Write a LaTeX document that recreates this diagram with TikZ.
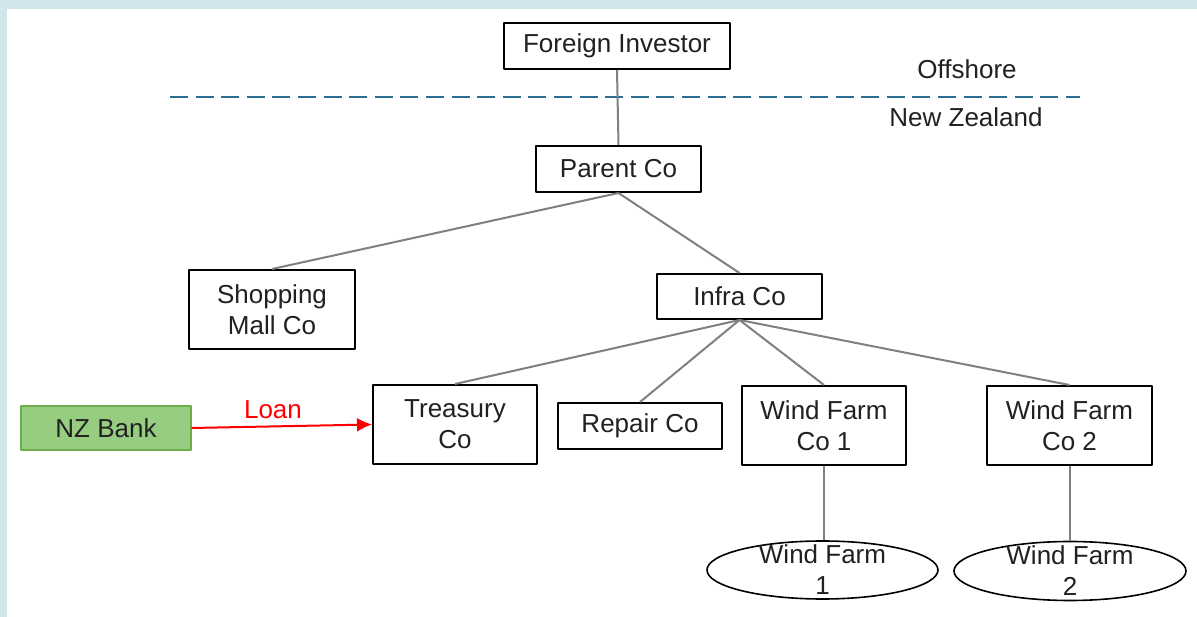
\documentclass[tikz,border=0pt]{standalone}
\usepackage{fontspec}
\setmainfont{Liberation Sans}
\usetikzlibrary{arrows.meta,shapes.geometric}
\definecolor{framecol}{RGB}{208,230,234}
\definecolor{linkcol}{RGB}{128,128,128}
\definecolor{bordercol}{RGB}{44,110,145}
\definecolor{bankfill}{RGB}{150,205,128}
\definecolor{bankdraw}{RGB}{106,174,74}
\begin{document}
\begin{tikzpicture}[>={Latex[length=15bp,width=14bp]},line join=bevel,
  every node/.style={font=\fontsize{26bp}{31bp}\selectfont,text=black!87},
  entity/.style={draw=black,line width=2bp,rectangle,inner sep=0pt,align=center,minimum width=165bp},
  farm/.style={draw=black,line width=1.6bp,ellipse,inner sep=0pt},
  link/.style={draw=linkcol,line width=2bp},
  loan/.style={draw=red,line width=2bp,->},
  divide/.style={draw=bordercol,line width=2.5bp,dash pattern=on 18bp off 7.6bp},
]
%%
\useasboundingbox (0bp,0bp) rectangle (1197bp,617bp);
\fill [framecol] (0bp,0bp) rectangle (1197bp,617bp);
\fill [white] (7bp,0bp) rectangle (1197bp,608bp);
%%
  \coordinate (divl) at (170bp,520bp);
  \coordinate (divr) at (1080bp,520bp);
  \draw [divide] (divl) -- (divr);
  \node (off) at (967bp,548bp) {Offshore};
  \node (nz) at (966bp,500bp) {New Zealand};
%%
  \node (FI) at (617bp,571bp) [entity,minimum width=226bp,minimum height=46bp] {Foreign Investor};
  \node (PC) at (618.5bp,448bp) [entity,minimum height=46bp] {Parent Co};
  \node (SMC) at (272bp,307.5bp) [entity,minimum width=166bp,minimum height=79bp] {Shopping\\Mall Co};
  \node (IC) at (739.5bp,320.5bp) [entity,minimum height=45bp] {Infra Co};
  \node (TC) at (455bp,192.5bp) [entity,minimum width=164bp,minimum height=79bp] {Treasury\\Co};
  \node (RC) at (640bp,191bp) [entity,minimum width=164bp,minimum height=46bp] {Repair Co};
  \node (WFC1) at (824bp,191.5bp) [entity,minimum width=164bp,minimum height=79bp] {Wind Farm\\Co 1};
  \node (WFC2) at (1069.5bp,191.5bp) [entity,minimum height=79bp] {Wind Farm\\Co 2};
  \node (NZB) at (106bp,189bp) [draw=bankdraw,fill=bankfill,line width=1.2bp,rectangle,minimum width=170bp,minimum height=44bp] {NZ Bank};
  \node (WF1) at (822.5bp,47bp) [farm,minimum width=231bp,minimum height=58bp] {};
  \node (WF2) at (1070bp,46bp) [farm,minimum width=232bp,minimum height=59bp] {};
  \node (WF1t) at (WF1) [align=center] {Wind Farm\\1};
  \node (WF2t) at (WF2) [align=center] {Wind Farm\\2};
%%
  \draw [link] (FI.south) -- (PC.north);
  \draw [link] (PC.south) -- (SMC.north);
  \draw [link] (PC.south) -- (IC.north);
  \draw [link] (IC.south) -- (TC.north);
  \draw [link] (IC.south) -- (RC.north);
  \draw [link] (IC.south) -- (WFC1.north);
  \draw [link] (IC.south) -- (WFC2.north);
  \draw [link] (WFC1.south) -- (WFC1.south |- WF1.north);
  \draw [link] (WFC2.south) -- (WFC2.south |- WF2.north);
  \draw [loan] (NZB.east) -- (TC.west);
  \draw (273bp,207bp) node [text=red] {Loan};
%
\end{tikzpicture}
\end{document}
